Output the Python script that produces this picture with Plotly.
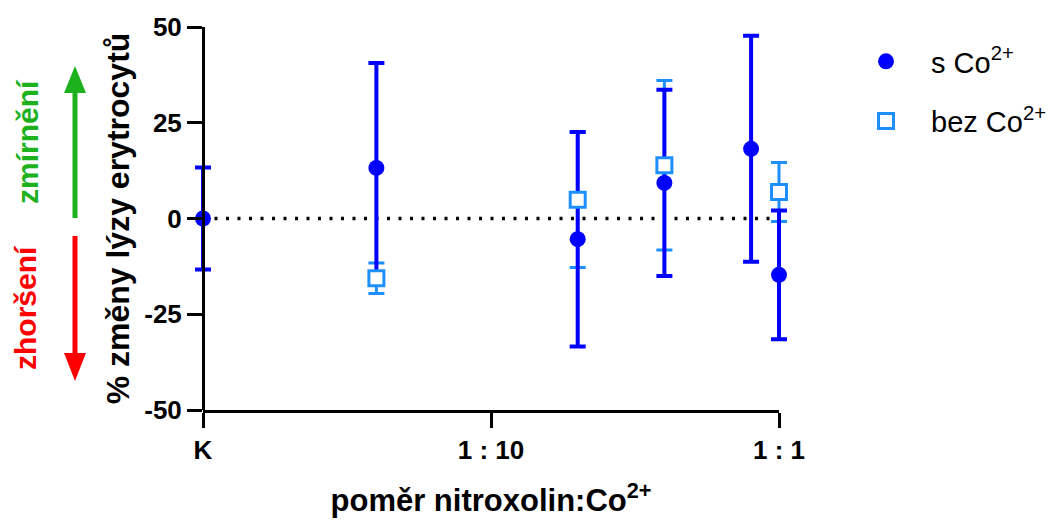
import plotly.graph_objects as go

# ---- data ----
tick_vals = [0.01, 0.1, 1.0]
tick_text = ["K", "1 : 10", "1 : 1"]

s_ratio = [0.01, 0.04, 0.2, 0.4, 0.8, 1.0]
s_mean = [0.0, 13.2, -5.4, 9.3, 18.2, -14.7]
s_err = [13.3, 27.4, 28.0, 24.3, 29.5, 16.8]

bez_ratio = [0.04, 0.2, 0.4, 1.0]
bez_mean = [-15.6, 4.9, 13.9, 6.9]
bez_err = [4.0, 17.7, 22.1, 7.7]

y_ticks = [-50, -25, 0, 25, 50]
y_tick_text = ["-50", "-25", "0", "25", "50"]

S_COLOR = "#0000FF"
BEZ_COLOR = "#1E8FFF"
FONT = "Liberation Sans, Arial, sans-serif"

# visible axis box in pixels (K .. 1:1, -50 .. 50); data area padded so caps are not clipped
AX_L, AX_R, T, B = 203, 779, 27, 410
PAD = 14
L0, R0 = AX_L - PAD, AX_R + PAD
W0, H = R0 - L0, B - T
DEC = (AX_R - AX_L) / 2.0  # pixels per decade
pad_dec = PAD / DEC
FW, FH = 1061, 520


def px(xp):
    return (xp - L0) / W0


def py(yp):
    return (B - yp) / H


fig = go.Figure()

# empty trace to carry the visible x axis (drawn first, underneath)
fig.add_trace(go.Scatter(x=[], y=[], xaxis="x2", yaxis="y",
                         showlegend=False, hoverinfo="skip"))

# error bars (bez below, s above)
fig.add_trace(go.Scatter(
    x=bez_ratio, y=bez_mean, mode="markers",
    marker=dict(size=1, color="rgba(0,0,0,0)"),
    error_y=dict(type="data", array=bez_err, visible=True,
                 color=BEZ_COLOR, thickness=3, width=8),
    showlegend=False, hoverinfo="skip", cliponaxis=False))
fig.add_trace(go.Scatter(
    x=s_ratio, y=s_mean, mode="markers",
    marker=dict(size=1, color="rgba(0,0,0,0)"),
    error_y=dict(type="data", array=s_err, visible=True,
                 color=S_COLOR, thickness=4, width=8),
    showlegend=False, hoverinfo="skip", cliponaxis=False))
# markers
fig.add_trace(go.Scatter(
    x=bez_ratio, y=bez_mean, mode="markers", name="bez Co<sup>2+</sup>",
    marker=dict(symbol="square", size=15, color="white",
                line=dict(color=BEZ_COLOR, width=3)),
    legendrank=2, legendgroup="b", cliponaxis=False))
fig.add_trace(go.Scatter(
    x=s_ratio, y=s_mean, mode="markers", name="s Co<sup>2+</sup>",
    marker=dict(symbol="circle", size=16, color=S_COLOR,
                line=dict(width=0)),
    legendrank=1, legendgroup="a", cliponaxis=False))

# zero dotted line
fig.add_shape(type="line", xref="x", yref="y", x0=0.01, x1=1.0, y0=0, y1=0,
              line=dict(color="black", width=3.5, dash="3px,8.5px"), layer="below")

# left arrows
GREEN = "#1DB11D"
RED = "#FF0000"
ax = 75
fig.add_shape(type="line", xref="paper", yref="paper",
              x0=px(ax), x1=px(ax), y0=py(218), y1=py(90),
              line=dict(color=GREEN, width=5))
fig.add_shape(type="path", xref="paper", yref="paper",
              path=f"M {px(ax)} {py(66)} L {px(ax-11)} {py(93)} L {px(ax+11)} {py(93)} Z",
              fillcolor=GREEN, line=dict(width=0))
fig.add_shape(type="line", xref="paper", yref="paper",
              x0=px(ax), x1=px(ax), y0=py(236), y1=py(356),
              line=dict(color=RED, width=5))
fig.add_shape(type="path", xref="paper", yref="paper",
              path=f"M {px(ax)} {py(381)} L {px(ax-11)} {py(353)} L {px(ax+11)} {py(353)} Z",
              fillcolor=RED, line=dict(width=0))

fig.add_annotation(text="<b>zmírnění</b>", xref="paper", yref="paper",
                   x=px(27), y=py(142), xanchor="center", yanchor="middle",
                   textangle=-90, showarrow=False,
                   font=dict(family=FONT, size=30, color=GREEN))
fig.add_annotation(text="<b>zhoršení</b>", xref="paper", yref="paper",
                   x=px(25), y=py(308), xanchor="center", yanchor="middle",
                   textangle=-90, showarrow=False,
                   font=dict(family=FONT, size=30, color=RED))

tickfont = dict(family=FONT, size=26, color="black", weight="bold")

fig.update_layout(
    width=FW, height=FH,
    margin=dict(l=L0, r=FW - R0, t=T, b=FH - B, pad=0, autoexpand=False),
    paper_bgcolor="white", plot_bgcolor="rgba(0,0,0,0)",
    font=dict(family=FONT, color="black", size=26),
    showlegend=True,
    legend=dict(xref="container", yref="container",
                x=841 / FW, y=1 - 36 / FH, xanchor="left", yanchor="top",
                font=dict(family=FONT, size=29, color="black"),
                itemwidth=80, tracegroupgap=19, traceorder="grouped",
                bgcolor="rgba(0,0,0,0)"),
    xaxis=dict(type="log", range=[-2 - pad_dec, 0 + pad_dec], domain=[0, 1],
               visible=False, showgrid=False, zeroline=False, automargin=False),
    xaxis2=dict(type="log", range=[-2, 0], domain=[PAD / W0, 1 - PAD / W0],
                anchor="y", tickvals=tick_vals, ticktext=tick_text,
                showgrid=False, zeroline=False, showline=True, linecolor="black",
                linewidth=3, ticks="outside", ticklen=15, tickwidth=3,
                tickcolor="black", tickfont=tickfont, automargin=False,
                title=dict(text="<b>poměr nitroxolin:Co<sup>2+</sup></b>",
                           font=dict(family=FONT, size=31, color="black"),
                           standoff=26)),
    yaxis=dict(range=[-50, 50], tickvals=y_ticks, ticktext=y_tick_text,
               anchor="free", position=PAD / W0, automargin=False,
               showgrid=False, zeroline=False, showline=True, linecolor="black",
               linewidth=3, ticks="outside", ticklen=15, tickwidth=3,
               tickcolor="black", tickfont=tickfont,
               title=dict(text="<b>% změny lýzy erytrocytů</b>",
                          font=dict(family=FONT, size=32, color="black"),
                          standoff=4)),
)

fig.write_html("out.html")
